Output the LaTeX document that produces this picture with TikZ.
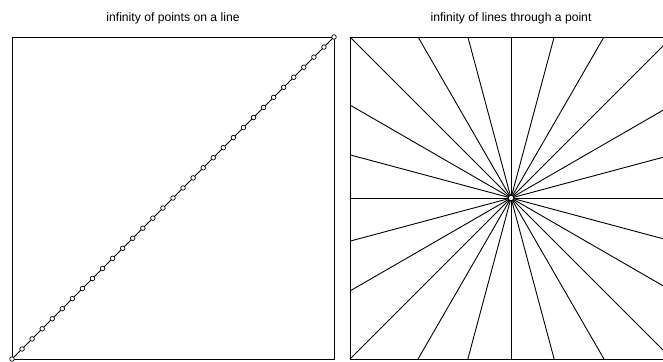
\documentclass[tikz,border=0pt]{standalone}
\usepackage{fontspec}
\setmainfont{Liberation Sans}
\usetikzlibrary{calc}
\begin{document}
\begin{tikzpicture}[x=1bp,y=-1bp,
  frame/.style={line width=0.9bp},
  ray/.style={line width=0.9bp},
  dot/.style={circle,draw,fill=white,line width=0.7bp,inner sep=0pt,minimum size=4.6bp},
  hub/.style={circle,draw,fill=white,line width=1.3bp,inner sep=0pt,minimum size=6bp},
  title/.style={anchor=base,font=\fontsize{12.2}{14}\selectfont}]
\useasboundingbox (0,0) rectangle (663,361);
\clip (0,0) rectangle (663,361);
% titles
\node[title] (t1) at (173,21.5) {infinity of points on a line};
\node[title] (t2) at (511,21.5) {infinity of lines through a point};
% left panel
\draw[frame] (12,37) rectangle (334,359);
\coordinate (a0) at (12,359);
\coordinate (a1) at (334,37);
\draw[ray] (a0) -- (a1);
\foreach \i in {0,...,32}{
  \node[dot] (p\i) at ($(a0)!\i/32!(a1)$) {};
}
% right panel
\draw[frame] (350,37) rectangle (672,359);
\coordinate (c) at (511,198);
\foreach \n/\xa/\ya/\xb/\yb in {
  1/350/37/672/359,
  2/418.05/37/603.95/359,
  3/467.86/37/554.14/359,
  4/511/37/511/359,
  5/554.14/37/467.86/359,
  6/603.95/37/418.05/359,
  7/672/37/350/359,
  8/350/154.86/672/241.14,
  9/350/105.05/672/290.95,
  10/350/198/672/198,
  11/350/241.14/672/154.86,
  12/350/290.95/672/105.05}{
  \coordinate (u\n) at (\xa,\ya);
  \coordinate (v\n) at (\xb,\yb);
  \draw[ray] (u\n) -- (v\n);
}
\node[hub] (h) at (c) {};
\end{tikzpicture}
\end{document}
